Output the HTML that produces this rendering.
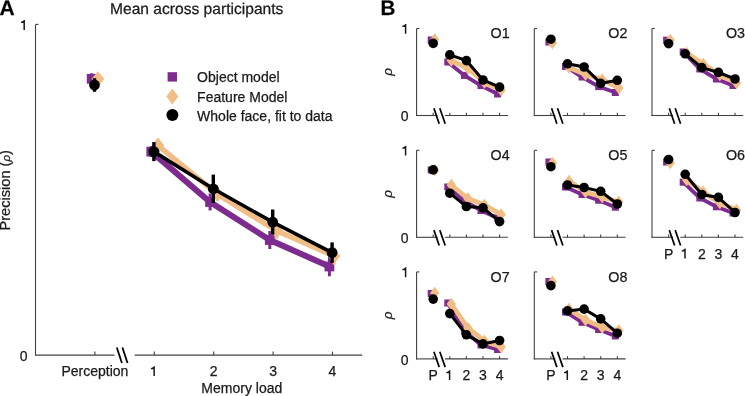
<!DOCTYPE html>
<html><head><meta charset="utf-8"><style>
html,body{margin:0;padding:0;background:#fff;}
svg{display:block;font-family:"Liberation Sans", sans-serif;will-change:transform;}
text{stroke:#1a1a1a;stroke-width:0.25px;}
</style></head><body>
<svg width="745" height="396" viewBox="0 0 745 396">
<rect width="745" height="396" fill="#fff"/>
<line x1="35.50" y1="24.40" x2="35.50" y2="355.60" stroke="#404040" stroke-width="1.1" stroke-linecap="butt"/>
<line x1="35.50" y1="24.40" x2="38.50" y2="24.40" stroke="#404040" stroke-width="1.1" stroke-linecap="butt"/>
<line x1="35.00" y1="355.10" x2="114.50" y2="355.10" stroke="#404040" stroke-width="1.1" stroke-linecap="butt"/>
<line x1="134.60" y1="355.10" x2="362.20" y2="355.10" stroke="#404040" stroke-width="1.1" stroke-linecap="butt"/>
<line x1="94.90" y1="355.10" x2="94.90" y2="351.60" stroke="#404040" stroke-width="1.1" stroke-linecap="butt"/>
<line x1="154.30" y1="355.10" x2="154.30" y2="351.60" stroke="#404040" stroke-width="1.1" stroke-linecap="butt"/>
<line x1="213.70" y1="355.10" x2="213.70" y2="351.60" stroke="#404040" stroke-width="1.1" stroke-linecap="butt"/>
<line x1="273.10" y1="355.10" x2="273.10" y2="351.60" stroke="#404040" stroke-width="1.1" stroke-linecap="butt"/>
<line x1="332.50" y1="355.10" x2="332.50" y2="351.60" stroke="#404040" stroke-width="1.1" stroke-linecap="butt"/>
<line x1="116.80" y1="347.50" x2="121.90" y2="363.00" stroke="#000" stroke-width="1.8" stroke-linecap="butt"/>
<line x1="122.40" y1="347.50" x2="127.50" y2="363.00" stroke="#000" stroke-width="1.8" stroke-linecap="butt"/>
<text x="27.60" y="360.70" font-size="14" text-anchor="end" font-weight="normal" fill="#1a1a1a" >0</text>
<path d="M24.95,29.90 L24.95,20.00 L23.90,20.00 C23.50,20.90 22.50,21.50 20.95,21.70 L20.95,23.00 L23.45,23.00 L23.45,29.90 Z" fill="#1a1a1a"/>
<text x="94.90" y="376.00" font-size="14" text-anchor="middle" font-weight="normal" fill="#1a1a1a" >Perception</text>
<path d="M154.90,376.10 L154.90,366.20 L153.85,366.20 C153.45,367.10 152.45,367.70 150.90,367.90 L150.90,369.20 L153.40,369.20 L153.40,376.10 Z" fill="#1a1a1a"/>
<text x="213.70" y="376.20" font-size="14" text-anchor="middle" font-weight="normal" fill="#1a1a1a" >2</text>
<text x="273.10" y="376.20" font-size="14" text-anchor="middle" font-weight="normal" fill="#1a1a1a" >3</text>
<text x="332.50" y="376.20" font-size="14" text-anchor="middle" font-weight="normal" fill="#1a1a1a" >4</text>
<text x="241.80" y="392.60" font-size="14" text-anchor="middle" font-weight="normal" fill="#1a1a1a" >Memory load</text>
<text x="0" y="0" font-size="14.6" text-anchor="middle" fill="#1a1a1a" transform="translate(10.4,190.3) rotate(-90)">Precision (<tspan font-style="italic" font-size="11.5" dy="-0.6">ρ</tspan><tspan dy="0.6">)</tspan></text>
<text x="196.7" y="13.9" font-size="15.6" text-anchor="middle" fill="#1a1a1a" text-rendering="geometricPrecision">Mean across participants</text>
<text x="-0.60" y="14.70" font-size="21" text-anchor="start" font-weight="bold" fill="#000" text-rendering="geometricPrecision">A</text>
<polyline points="151.30,151.60 210.10,202.00 269.80,240.00 329.40,266.50" fill="none" stroke="#7e2b8f" stroke-width="6.0" stroke-linejoin="miter" stroke-miterlimit="3"/>
<line x1="91.70" y1="73.30" x2="91.70" y2="84.30" stroke="#7e2b8f" stroke-width="3" stroke-linecap="butt"/>
<rect x="86.80" y="73.90" width="9.8" height="9.8" fill="#7e2b8f"/>
<line x1="151.30" y1="146.10" x2="151.30" y2="157.10" stroke="#7e2b8f" stroke-width="3" stroke-linecap="butt"/>
<rect x="146.40" y="146.70" width="9.8" height="9.8" fill="#7e2b8f"/>
<line x1="210.10" y1="193.50" x2="210.10" y2="210.50" stroke="#7e2b8f" stroke-width="3" stroke-linecap="butt"/>
<rect x="205.20" y="197.10" width="9.8" height="9.8" fill="#7e2b8f"/>
<line x1="269.80" y1="231.00" x2="269.80" y2="249.00" stroke="#7e2b8f" stroke-width="3" stroke-linecap="butt"/>
<rect x="264.90" y="235.10" width="9.8" height="9.8" fill="#7e2b8f"/>
<line x1="329.40" y1="256.70" x2="329.40" y2="276.30" stroke="#7e2b8f" stroke-width="3" stroke-linecap="butt"/>
<rect x="324.50" y="261.60" width="9.8" height="9.8" fill="#7e2b8f"/>
<polyline points="158.00,145.50 217.30,194.00 276.60,230.70 334.10,256.00" fill="none" stroke="#f0bd84" stroke-width="5.4" stroke-linejoin="miter" stroke-miterlimit="3"/>
<line x1="97.90" y1="73.00" x2="97.90" y2="85.00" stroke="#f0bd84" stroke-width="3" stroke-linecap="butt"/>
<polygon points="97.90,71.25 104.30,79.00 97.90,86.75 91.50,79.00" fill="#f0bd84"/>
<line x1="158.00" y1="138.50" x2="158.00" y2="152.50" stroke="#f0bd84" stroke-width="3" stroke-linecap="butt"/>
<polygon points="158.00,137.75 164.40,145.50 158.00,153.25 151.60,145.50" fill="#f0bd84"/>
<line x1="217.30" y1="187.00" x2="217.30" y2="201.00" stroke="#f0bd84" stroke-width="3" stroke-linecap="butt"/>
<polygon points="217.30,186.25 223.70,194.00 217.30,201.75 210.90,194.00" fill="#f0bd84"/>
<line x1="276.60" y1="222.70" x2="276.60" y2="238.70" stroke="#f0bd84" stroke-width="3" stroke-linecap="butt"/>
<polygon points="276.60,222.95 283.00,230.70 276.60,238.45 270.20,230.70" fill="#f0bd84"/>
<line x1="334.10" y1="247.50" x2="334.10" y2="264.50" stroke="#f0bd84" stroke-width="3" stroke-linecap="butt"/>
<polygon points="334.10,248.25 340.50,256.00 334.10,263.75 327.70,256.00" fill="#f0bd84"/>
<polyline points="153.90,151.60 213.30,188.80 272.70,222.10 332.10,252.60" fill="none" stroke="#000" stroke-width="3.6" stroke-linejoin="miter" stroke-miterlimit="3"/>
<line x1="94.50" y1="78.20" x2="94.50" y2="91.80" stroke="#000" stroke-width="3.4" stroke-linecap="butt"/>
<circle cx="94.50" cy="85.00" r="5.4" fill="#000"/>
<line x1="153.90" y1="142.10" x2="153.90" y2="161.10" stroke="#000" stroke-width="3.4" stroke-linecap="butt"/>
<circle cx="153.90" cy="151.60" r="5.4" fill="#000"/>
<line x1="213.30" y1="174.60" x2="213.30" y2="203.00" stroke="#000" stroke-width="3.4" stroke-linecap="butt"/>
<circle cx="213.30" cy="188.80" r="5.4" fill="#000"/>
<line x1="272.70" y1="209.50" x2="272.70" y2="234.70" stroke="#000" stroke-width="3.4" stroke-linecap="butt"/>
<circle cx="272.70" cy="222.10" r="5.4" fill="#000"/>
<line x1="332.10" y1="242.40" x2="332.10" y2="262.80" stroke="#000" stroke-width="3.4" stroke-linecap="butt"/>
<circle cx="332.10" cy="252.60" r="5.4" fill="#000"/>
<rect x="167.60" y="72.20" width="9.4" height="9.4" fill="#7e2b8f"/>
<polygon points="172.40,88.60 178.40,96.60 172.40,104.60 166.40,96.60" fill="#f0bd84"/>
<circle cx="172.40" cy="115.00" r="6" fill="#000"/>
<text x="197.10" y="82.40" font-size="14" text-anchor="start" font-weight="normal" fill="#1a1a1a" >Object model</text>
<text x="197.10" y="102.00" font-size="14" text-anchor="start" font-weight="normal" fill="#1a1a1a" >Feature Model</text>
<text x="197.10" y="121.40" font-size="14" text-anchor="start" font-weight="normal" fill="#1a1a1a" >Whole face, fit to data</text>
<text x="0" y="0" font-size="21" font-weight="bold" fill="#000" text-rendering="geometricPrecision" transform="translate(380.6,14.7) scale(0.98,1)">B</text>
<line x1="416.60" y1="28.50" x2="416.60" y2="116.00" stroke="#404040" stroke-width="1.1" stroke-linecap="butt"/>
<line x1="416.60" y1="28.50" x2="419.40" y2="28.50" stroke="#404040" stroke-width="1.1" stroke-linecap="butt"/>
<line x1="416.10" y1="115.50" x2="437.60" y2="115.50" stroke="#404040" stroke-width="1.1" stroke-linecap="butt"/>
<line x1="444.90" y1="115.50" x2="507.90" y2="115.50" stroke="#404040" stroke-width="1.1" stroke-linecap="butt"/>
<line x1="433.20" y1="115.50" x2="433.20" y2="112.80" stroke="#404040" stroke-width="1.1" stroke-linecap="butt"/>
<line x1="449.80" y1="115.50" x2="449.80" y2="112.80" stroke="#404040" stroke-width="1.1" stroke-linecap="butt"/>
<line x1="466.40" y1="115.50" x2="466.40" y2="112.80" stroke="#404040" stroke-width="1.1" stroke-linecap="butt"/>
<line x1="483.00" y1="115.50" x2="483.00" y2="112.80" stroke="#404040" stroke-width="1.1" stroke-linecap="butt"/>
<line x1="499.60" y1="115.50" x2="499.60" y2="112.80" stroke="#404040" stroke-width="1.1" stroke-linecap="butt"/>
<line x1="433.90" y1="108.30" x2="439.20" y2="123.70" stroke="#000" stroke-width="1.7" stroke-linecap="butt"/>
<line x1="439.80" y1="108.30" x2="445.20" y2="123.70" stroke="#000" stroke-width="1.7" stroke-linecap="butt"/>
<path d="M406.35,33.80 L406.35,23.90 L405.30,23.90 C404.90,24.80 403.90,25.40 402.35,25.60 L402.35,26.90 L404.85,26.90 L404.85,33.80 Z" fill="#1a1a1a"/>
<text x="408.60" y="121.10" font-size="14" text-anchor="end" font-weight="normal" fill="#1a1a1a" >0</text>
<text x="0" y="0" font-size="13.5" font-style="italic" text-anchor="middle" fill="#1a1a1a" transform="translate(392.30,72.00) rotate(-90)">ρ</text>
<text x="490.60" y="38.20" font-size="14.3" text-anchor="start" font-weight="normal" fill="#1a1a1a" >O1</text>
<polyline points="447.80,62.00 464.40,75.40 481.00,85.60 497.60,94.00" fill="none" stroke="#7e2b8f" stroke-width="3.8" stroke-linejoin="miter" stroke-miterlimit="3"/>
<rect x="427.70" y="36.50" width="7" height="7" fill="#7e2b8f"/>
<rect x="444.30" y="58.50" width="7" height="7" fill="#7e2b8f"/>
<rect x="460.90" y="71.90" width="7" height="7" fill="#7e2b8f"/>
<rect x="477.50" y="82.10" width="7" height="7" fill="#7e2b8f"/>
<rect x="494.10" y="90.50" width="7" height="7" fill="#7e2b8f"/>
<polyline points="451.30,60.50 467.90,68.50 484.50,82.50 501.10,90.00" fill="none" stroke="#f0bd84" stroke-width="4.8" stroke-linejoin="miter" stroke-miterlimit="3"/>
<polygon points="434.70,33.25 439.40,39.50 434.70,45.75 430.00,39.50" fill="#f0bd84"/>
<polygon points="451.30,54.25 456.00,60.50 451.30,66.75 446.60,60.50" fill="#f0bd84"/>
<polygon points="467.90,62.25 472.60,68.50 467.90,74.75 463.20,68.50" fill="#f0bd84"/>
<polygon points="484.50,76.25 489.20,82.50 484.50,88.75 479.80,82.50" fill="#f0bd84"/>
<polygon points="501.10,83.75 505.80,90.00 501.10,96.25 496.40,90.00" fill="#f0bd84"/>
<polyline points="449.80,54.90 466.40,60.60 483.00,80.00 499.60,87.10" fill="none" stroke="#000" stroke-width="3" stroke-linejoin="miter" stroke-miterlimit="3"/>
<circle cx="433.20" cy="43.40" r="4.8" fill="#000"/>
<circle cx="449.80" cy="54.90" r="4.8" fill="#000"/>
<circle cx="466.40" cy="60.60" r="4.8" fill="#000"/>
<circle cx="483.00" cy="80.00" r="4.8" fill="#000"/>
<circle cx="499.60" cy="87.10" r="4.8" fill="#000"/>
<line x1="534.30" y1="28.50" x2="534.30" y2="116.00" stroke="#404040" stroke-width="1.1" stroke-linecap="butt"/>
<line x1="534.30" y1="28.50" x2="537.10" y2="28.50" stroke="#404040" stroke-width="1.1" stroke-linecap="butt"/>
<line x1="533.80" y1="115.50" x2="555.30" y2="115.50" stroke="#404040" stroke-width="1.1" stroke-linecap="butt"/>
<line x1="562.60" y1="115.50" x2="625.60" y2="115.50" stroke="#404040" stroke-width="1.1" stroke-linecap="butt"/>
<line x1="550.90" y1="115.50" x2="550.90" y2="112.80" stroke="#404040" stroke-width="1.1" stroke-linecap="butt"/>
<line x1="567.50" y1="115.50" x2="567.50" y2="112.80" stroke="#404040" stroke-width="1.1" stroke-linecap="butt"/>
<line x1="584.10" y1="115.50" x2="584.10" y2="112.80" stroke="#404040" stroke-width="1.1" stroke-linecap="butt"/>
<line x1="600.70" y1="115.50" x2="600.70" y2="112.80" stroke="#404040" stroke-width="1.1" stroke-linecap="butt"/>
<line x1="617.30" y1="115.50" x2="617.30" y2="112.80" stroke="#404040" stroke-width="1.1" stroke-linecap="butt"/>
<line x1="551.60" y1="108.30" x2="556.90" y2="123.70" stroke="#000" stroke-width="1.7" stroke-linecap="butt"/>
<line x1="557.50" y1="108.30" x2="562.90" y2="123.70" stroke="#000" stroke-width="1.7" stroke-linecap="butt"/>
<text x="608.30" y="38.20" font-size="14.3" text-anchor="start" font-weight="normal" fill="#1a1a1a" >O2</text>
<polyline points="565.50,66.50 582.10,77.00 598.70,86.60 615.30,92.50" fill="none" stroke="#7e2b8f" stroke-width="3.8" stroke-linejoin="miter" stroke-miterlimit="3"/>
<rect x="545.40" y="38.50" width="7" height="7" fill="#7e2b8f"/>
<rect x="562.00" y="63.00" width="7" height="7" fill="#7e2b8f"/>
<rect x="578.60" y="73.50" width="7" height="7" fill="#7e2b8f"/>
<rect x="595.20" y="83.10" width="7" height="7" fill="#7e2b8f"/>
<rect x="611.80" y="89.00" width="7" height="7" fill="#7e2b8f"/>
<polyline points="569.00,67.50 585.60,74.50 602.20,79.50 618.80,88.00" fill="none" stroke="#f0bd84" stroke-width="4.8" stroke-linejoin="miter" stroke-miterlimit="3"/>
<polygon points="552.40,36.75 557.10,43.00 552.40,49.25 547.70,43.00" fill="#f0bd84"/>
<polygon points="569.00,61.25 573.70,67.50 569.00,73.75 564.30,67.50" fill="#f0bd84"/>
<polygon points="585.60,68.25 590.30,74.50 585.60,80.75 580.90,74.50" fill="#f0bd84"/>
<polygon points="602.20,73.25 606.90,79.50 602.20,85.75 597.50,79.50" fill="#f0bd84"/>
<polygon points="618.80,81.75 623.50,88.00 618.80,94.25 614.10,88.00" fill="#f0bd84"/>
<polyline points="567.50,63.80 584.10,67.00 600.70,83.40 617.30,80.30" fill="none" stroke="#000" stroke-width="3" stroke-linejoin="miter" stroke-miterlimit="3"/>
<circle cx="550.90" cy="39.20" r="4.8" fill="#000"/>
<circle cx="567.50" cy="63.80" r="4.8" fill="#000"/>
<circle cx="584.10" cy="67.00" r="4.8" fill="#000"/>
<circle cx="600.70" cy="83.40" r="4.8" fill="#000"/>
<circle cx="617.30" cy="80.30" r="4.8" fill="#000"/>
<line x1="652.00" y1="28.50" x2="652.00" y2="116.00" stroke="#404040" stroke-width="1.1" stroke-linecap="butt"/>
<line x1="652.00" y1="28.50" x2="654.80" y2="28.50" stroke="#404040" stroke-width="1.1" stroke-linecap="butt"/>
<line x1="651.50" y1="115.50" x2="673.00" y2="115.50" stroke="#404040" stroke-width="1.1" stroke-linecap="butt"/>
<line x1="680.30" y1="115.50" x2="743.30" y2="115.50" stroke="#404040" stroke-width="1.1" stroke-linecap="butt"/>
<line x1="668.60" y1="115.50" x2="668.60" y2="112.80" stroke="#404040" stroke-width="1.1" stroke-linecap="butt"/>
<line x1="685.20" y1="115.50" x2="685.20" y2="112.80" stroke="#404040" stroke-width="1.1" stroke-linecap="butt"/>
<line x1="701.80" y1="115.50" x2="701.80" y2="112.80" stroke="#404040" stroke-width="1.1" stroke-linecap="butt"/>
<line x1="718.40" y1="115.50" x2="718.40" y2="112.80" stroke="#404040" stroke-width="1.1" stroke-linecap="butt"/>
<line x1="735.00" y1="115.50" x2="735.00" y2="112.80" stroke="#404040" stroke-width="1.1" stroke-linecap="butt"/>
<line x1="669.30" y1="108.30" x2="674.60" y2="123.70" stroke="#000" stroke-width="1.7" stroke-linecap="butt"/>
<line x1="675.20" y1="108.30" x2="680.60" y2="123.70" stroke="#000" stroke-width="1.7" stroke-linecap="butt"/>
<text x="726.00" y="38.20" font-size="14.3" text-anchor="start" font-weight="normal" fill="#1a1a1a" >O3</text>
<polyline points="683.20,52.00 699.80,69.00 716.40,79.00 733.00,85.50" fill="none" stroke="#7e2b8f" stroke-width="3.8" stroke-linejoin="miter" stroke-miterlimit="3"/>
<rect x="663.10" y="36.70" width="7" height="7" fill="#7e2b8f"/>
<rect x="679.70" y="48.50" width="7" height="7" fill="#7e2b8f"/>
<rect x="696.30" y="65.50" width="7" height="7" fill="#7e2b8f"/>
<rect x="712.90" y="75.50" width="7" height="7" fill="#7e2b8f"/>
<rect x="729.50" y="82.00" width="7" height="7" fill="#7e2b8f"/>
<polyline points="686.70,53.00 703.30,64.00 719.90,75.00 736.50,83.00" fill="none" stroke="#f0bd84" stroke-width="4.8" stroke-linejoin="miter" stroke-miterlimit="3"/>
<polygon points="670.10,33.75 674.80,40.00 670.10,46.25 665.40,40.00" fill="#f0bd84"/>
<polygon points="686.70,46.75 691.40,53.00 686.70,59.25 682.00,53.00" fill="#f0bd84"/>
<polygon points="703.30,57.75 708.00,64.00 703.30,70.25 698.60,64.00" fill="#f0bd84"/>
<polygon points="719.90,68.75 724.60,75.00 719.90,81.25 715.20,75.00" fill="#f0bd84"/>
<polygon points="736.50,76.75 741.20,83.00 736.50,89.25 731.80,83.00" fill="#f0bd84"/>
<polyline points="685.20,53.80 701.80,67.60 718.40,72.40 735.00,79.00" fill="none" stroke="#000" stroke-width="3" stroke-linejoin="miter" stroke-miterlimit="3"/>
<circle cx="668.60" cy="43.60" r="4.8" fill="#000"/>
<circle cx="685.20" cy="53.80" r="4.8" fill="#000"/>
<circle cx="701.80" cy="67.60" r="4.8" fill="#000"/>
<circle cx="718.40" cy="72.40" r="4.8" fill="#000"/>
<circle cx="735.00" cy="79.00" r="4.8" fill="#000"/>
<line x1="416.60" y1="150.30" x2="416.60" y2="237.80" stroke="#404040" stroke-width="1.1" stroke-linecap="butt"/>
<line x1="416.60" y1="150.30" x2="419.40" y2="150.30" stroke="#404040" stroke-width="1.1" stroke-linecap="butt"/>
<line x1="416.10" y1="237.30" x2="437.60" y2="237.30" stroke="#404040" stroke-width="1.1" stroke-linecap="butt"/>
<line x1="444.90" y1="237.30" x2="507.90" y2="237.30" stroke="#404040" stroke-width="1.1" stroke-linecap="butt"/>
<line x1="433.20" y1="237.30" x2="433.20" y2="234.60" stroke="#404040" stroke-width="1.1" stroke-linecap="butt"/>
<line x1="449.80" y1="237.30" x2="449.80" y2="234.60" stroke="#404040" stroke-width="1.1" stroke-linecap="butt"/>
<line x1="466.40" y1="237.30" x2="466.40" y2="234.60" stroke="#404040" stroke-width="1.1" stroke-linecap="butt"/>
<line x1="483.00" y1="237.30" x2="483.00" y2="234.60" stroke="#404040" stroke-width="1.1" stroke-linecap="butt"/>
<line x1="499.60" y1="237.30" x2="499.60" y2="234.60" stroke="#404040" stroke-width="1.1" stroke-linecap="butt"/>
<line x1="433.90" y1="230.10" x2="439.20" y2="245.50" stroke="#000" stroke-width="1.7" stroke-linecap="butt"/>
<line x1="439.80" y1="230.10" x2="445.20" y2="245.50" stroke="#000" stroke-width="1.7" stroke-linecap="butt"/>
<path d="M406.35,155.60 L406.35,145.70 L405.30,145.70 C404.90,146.60 403.90,147.20 402.35,147.40 L402.35,148.70 L404.85,148.70 L404.85,155.60 Z" fill="#1a1a1a"/>
<text x="408.60" y="242.90" font-size="14" text-anchor="end" font-weight="normal" fill="#1a1a1a" >0</text>
<text x="0" y="0" font-size="13.5" font-style="italic" text-anchor="middle" fill="#1a1a1a" transform="translate(392.30,193.80) rotate(-90)">ρ</text>
<text x="490.60" y="160.00" font-size="14.3" text-anchor="start" font-weight="normal" fill="#1a1a1a" >O4</text>
<polyline points="447.80,187.00 464.40,201.00 481.00,210.50 497.60,218.00" fill="none" stroke="#7e2b8f" stroke-width="3.8" stroke-linejoin="miter" stroke-miterlimit="3"/>
<rect x="427.70" y="166.50" width="7" height="7" fill="#7e2b8f"/>
<rect x="444.30" y="183.50" width="7" height="7" fill="#7e2b8f"/>
<rect x="460.90" y="197.50" width="7" height="7" fill="#7e2b8f"/>
<rect x="477.50" y="207.00" width="7" height="7" fill="#7e2b8f"/>
<rect x="494.10" y="214.50" width="7" height="7" fill="#7e2b8f"/>
<polyline points="451.30,185.00 467.90,198.50 484.50,205.00 501.10,214.50" fill="none" stroke="#f0bd84" stroke-width="4.8" stroke-linejoin="miter" stroke-miterlimit="3"/>
<polygon points="434.70,163.75 439.40,170.00 434.70,176.25 430.00,170.00" fill="#f0bd84"/>
<polygon points="451.30,178.75 456.00,185.00 451.30,191.25 446.60,185.00" fill="#f0bd84"/>
<polygon points="467.90,192.25 472.60,198.50 467.90,204.75 463.20,198.50" fill="#f0bd84"/>
<polygon points="484.50,198.75 489.20,205.00 484.50,211.25 479.80,205.00" fill="#f0bd84"/>
<polygon points="501.10,208.25 505.80,214.50 501.10,220.75 496.40,214.50" fill="#f0bd84"/>
<polyline points="449.80,193.20 466.40,206.50 483.00,207.80 499.60,221.60" fill="none" stroke="#000" stroke-width="3" stroke-linejoin="miter" stroke-miterlimit="3"/>
<circle cx="433.20" cy="169.90" r="4.8" fill="#000"/>
<circle cx="449.80" cy="193.20" r="4.8" fill="#000"/>
<circle cx="466.40" cy="206.50" r="4.8" fill="#000"/>
<circle cx="483.00" cy="207.80" r="4.8" fill="#000"/>
<circle cx="499.60" cy="221.60" r="4.8" fill="#000"/>
<line x1="534.30" y1="150.30" x2="534.30" y2="237.80" stroke="#404040" stroke-width="1.1" stroke-linecap="butt"/>
<line x1="534.30" y1="150.30" x2="537.10" y2="150.30" stroke="#404040" stroke-width="1.1" stroke-linecap="butt"/>
<line x1="533.80" y1="237.30" x2="555.30" y2="237.30" stroke="#404040" stroke-width="1.1" stroke-linecap="butt"/>
<line x1="562.60" y1="237.30" x2="625.60" y2="237.30" stroke="#404040" stroke-width="1.1" stroke-linecap="butt"/>
<line x1="550.90" y1="237.30" x2="550.90" y2="234.60" stroke="#404040" stroke-width="1.1" stroke-linecap="butt"/>
<line x1="567.50" y1="237.30" x2="567.50" y2="234.60" stroke="#404040" stroke-width="1.1" stroke-linecap="butt"/>
<line x1="584.10" y1="237.30" x2="584.10" y2="234.60" stroke="#404040" stroke-width="1.1" stroke-linecap="butt"/>
<line x1="600.70" y1="237.30" x2="600.70" y2="234.60" stroke="#404040" stroke-width="1.1" stroke-linecap="butt"/>
<line x1="617.30" y1="237.30" x2="617.30" y2="234.60" stroke="#404040" stroke-width="1.1" stroke-linecap="butt"/>
<line x1="551.60" y1="230.10" x2="556.90" y2="245.50" stroke="#000" stroke-width="1.7" stroke-linecap="butt"/>
<line x1="557.50" y1="230.10" x2="562.90" y2="245.50" stroke="#000" stroke-width="1.7" stroke-linecap="butt"/>
<text x="608.30" y="160.00" font-size="14.3" text-anchor="start" font-weight="normal" fill="#1a1a1a" >O5</text>
<polyline points="565.50,187.00 582.10,194.50 598.70,200.20 615.30,207.20" fill="none" stroke="#7e2b8f" stroke-width="3.8" stroke-linejoin="miter" stroke-miterlimit="3"/>
<rect x="545.40" y="158.50" width="7" height="7" fill="#7e2b8f"/>
<rect x="562.00" y="183.50" width="7" height="7" fill="#7e2b8f"/>
<rect x="578.60" y="191.00" width="7" height="7" fill="#7e2b8f"/>
<rect x="595.20" y="196.70" width="7" height="7" fill="#7e2b8f"/>
<rect x="611.80" y="203.70" width="7" height="7" fill="#7e2b8f"/>
<polyline points="569.00,181.00 585.60,192.00 602.20,197.00 618.80,202.00" fill="none" stroke="#f0bd84" stroke-width="4.8" stroke-linejoin="miter" stroke-miterlimit="3"/>
<polygon points="552.40,156.75 557.10,163.00 552.40,169.25 547.70,163.00" fill="#f0bd84"/>
<polygon points="569.00,174.75 573.70,181.00 569.00,187.25 564.30,181.00" fill="#f0bd84"/>
<polygon points="585.60,185.75 590.30,192.00 585.60,198.25 580.90,192.00" fill="#f0bd84"/>
<polygon points="602.20,190.75 606.90,197.00 602.20,203.25 597.50,197.00" fill="#f0bd84"/>
<polygon points="618.80,195.75 623.50,202.00 618.80,208.25 614.10,202.00" fill="#f0bd84"/>
<polyline points="567.50,185.00 584.10,187.50 600.70,191.30 617.30,204.00" fill="none" stroke="#000" stroke-width="3" stroke-linejoin="miter" stroke-miterlimit="3"/>
<circle cx="550.90" cy="166.70" r="4.8" fill="#000"/>
<circle cx="567.50" cy="185.00" r="4.8" fill="#000"/>
<circle cx="584.10" cy="187.50" r="4.8" fill="#000"/>
<circle cx="600.70" cy="191.30" r="4.8" fill="#000"/>
<circle cx="617.30" cy="204.00" r="4.8" fill="#000"/>
<line x1="652.00" y1="150.30" x2="652.00" y2="237.80" stroke="#404040" stroke-width="1.1" stroke-linecap="butt"/>
<line x1="652.00" y1="150.30" x2="654.80" y2="150.30" stroke="#404040" stroke-width="1.1" stroke-linecap="butt"/>
<line x1="651.50" y1="237.30" x2="673.00" y2="237.30" stroke="#404040" stroke-width="1.1" stroke-linecap="butt"/>
<line x1="680.30" y1="237.30" x2="743.30" y2="237.30" stroke="#404040" stroke-width="1.1" stroke-linecap="butt"/>
<line x1="668.60" y1="237.30" x2="668.60" y2="234.60" stroke="#404040" stroke-width="1.1" stroke-linecap="butt"/>
<line x1="685.20" y1="237.30" x2="685.20" y2="234.60" stroke="#404040" stroke-width="1.1" stroke-linecap="butt"/>
<line x1="701.80" y1="237.30" x2="701.80" y2="234.60" stroke="#404040" stroke-width="1.1" stroke-linecap="butt"/>
<line x1="718.40" y1="237.30" x2="718.40" y2="234.60" stroke="#404040" stroke-width="1.1" stroke-linecap="butt"/>
<line x1="735.00" y1="237.30" x2="735.00" y2="234.60" stroke="#404040" stroke-width="1.1" stroke-linecap="butt"/>
<line x1="669.30" y1="230.10" x2="674.60" y2="245.50" stroke="#000" stroke-width="1.7" stroke-linecap="butt"/>
<line x1="675.20" y1="230.10" x2="680.60" y2="245.50" stroke="#000" stroke-width="1.7" stroke-linecap="butt"/>
<text x="668.60" y="258.50" font-size="14" text-anchor="middle" font-weight="normal" fill="#1a1a1a" >P</text>
<path d="M685.75,258.50 L685.75,248.60 L684.70,248.60 C684.30,249.50 683.30,250.10 681.75,250.30 L681.75,251.60 L684.25,251.60 L684.25,258.50 Z" fill="#1a1a1a"/>
<text x="701.80" y="258.50" font-size="14" text-anchor="middle" font-weight="normal" fill="#1a1a1a" >2</text>
<text x="718.40" y="258.50" font-size="14" text-anchor="middle" font-weight="normal" fill="#1a1a1a" >3</text>
<text x="735.00" y="258.50" font-size="14" text-anchor="middle" font-weight="normal" fill="#1a1a1a" >4</text>
<text x="726.00" y="160.00" font-size="14.3" text-anchor="start" font-weight="normal" fill="#1a1a1a" >O6</text>
<polyline points="683.20,182.20 699.80,198.00 716.40,206.80 733.00,213.00" fill="none" stroke="#7e2b8f" stroke-width="3.8" stroke-linejoin="miter" stroke-miterlimit="3"/>
<rect x="663.10" y="158.50" width="7" height="7" fill="#7e2b8f"/>
<rect x="679.70" y="178.70" width="7" height="7" fill="#7e2b8f"/>
<rect x="696.30" y="194.50" width="7" height="7" fill="#7e2b8f"/>
<rect x="712.90" y="203.30" width="7" height="7" fill="#7e2b8f"/>
<rect x="729.50" y="209.50" width="7" height="7" fill="#7e2b8f"/>
<polyline points="686.70,180.00 703.30,192.00 719.90,203.00 736.50,210.00" fill="none" stroke="#f0bd84" stroke-width="4.8" stroke-linejoin="miter" stroke-miterlimit="3"/>
<polygon points="670.10,156.75 674.80,163.00 670.10,169.25 665.40,163.00" fill="#f0bd84"/>
<polygon points="686.70,173.75 691.40,180.00 686.70,186.25 682.00,180.00" fill="#f0bd84"/>
<polygon points="703.30,185.75 708.00,192.00 703.30,198.25 698.60,192.00" fill="#f0bd84"/>
<polygon points="719.90,196.75 724.60,203.00 719.90,209.25 715.20,203.00" fill="#f0bd84"/>
<polygon points="736.50,203.75 741.20,210.00 736.50,216.25 731.80,210.00" fill="#f0bd84"/>
<polyline points="685.20,174.30 701.80,194.50 718.40,197.40 735.00,212.50" fill="none" stroke="#000" stroke-width="3" stroke-linejoin="miter" stroke-miterlimit="3"/>
<circle cx="668.60" cy="159.50" r="4.8" fill="#000"/>
<circle cx="685.20" cy="174.30" r="4.8" fill="#000"/>
<circle cx="701.80" cy="194.50" r="4.8" fill="#000"/>
<circle cx="718.40" cy="197.40" r="4.8" fill="#000"/>
<circle cx="735.00" cy="212.50" r="4.8" fill="#000"/>
<line x1="416.60" y1="271.90" x2="416.60" y2="359.40" stroke="#404040" stroke-width="1.1" stroke-linecap="butt"/>
<line x1="416.60" y1="271.90" x2="419.40" y2="271.90" stroke="#404040" stroke-width="1.1" stroke-linecap="butt"/>
<line x1="416.10" y1="358.90" x2="437.60" y2="358.90" stroke="#404040" stroke-width="1.1" stroke-linecap="butt"/>
<line x1="444.90" y1="358.90" x2="507.90" y2="358.90" stroke="#404040" stroke-width="1.1" stroke-linecap="butt"/>
<line x1="433.20" y1="358.90" x2="433.20" y2="356.20" stroke="#404040" stroke-width="1.1" stroke-linecap="butt"/>
<line x1="449.80" y1="358.90" x2="449.80" y2="356.20" stroke="#404040" stroke-width="1.1" stroke-linecap="butt"/>
<line x1="466.40" y1="358.90" x2="466.40" y2="356.20" stroke="#404040" stroke-width="1.1" stroke-linecap="butt"/>
<line x1="483.00" y1="358.90" x2="483.00" y2="356.20" stroke="#404040" stroke-width="1.1" stroke-linecap="butt"/>
<line x1="499.60" y1="358.90" x2="499.60" y2="356.20" stroke="#404040" stroke-width="1.1" stroke-linecap="butt"/>
<line x1="433.90" y1="351.70" x2="439.20" y2="367.10" stroke="#000" stroke-width="1.7" stroke-linecap="butt"/>
<line x1="439.80" y1="351.70" x2="445.20" y2="367.10" stroke="#000" stroke-width="1.7" stroke-linecap="butt"/>
<path d="M406.35,277.20 L406.35,267.30 L405.30,267.30 C404.90,268.20 403.90,268.80 402.35,269.00 L402.35,270.30 L404.85,270.30 L404.85,277.20 Z" fill="#1a1a1a"/>
<text x="408.60" y="364.50" font-size="14" text-anchor="end" font-weight="normal" fill="#1a1a1a" >0</text>
<text x="0" y="0" font-size="13.5" font-style="italic" text-anchor="middle" fill="#1a1a1a" transform="translate(392.30,315.40) rotate(-90)">ρ</text>
<text x="433.20" y="380.10" font-size="14" text-anchor="middle" font-weight="normal" fill="#1a1a1a" >P</text>
<path d="M450.35,380.10 L450.35,370.20 L449.30,370.20 C448.90,371.10 447.90,371.70 446.35,371.90 L446.35,373.20 L448.85,373.20 L448.85,380.10 Z" fill="#1a1a1a"/>
<text x="466.40" y="380.10" font-size="14" text-anchor="middle" font-weight="normal" fill="#1a1a1a" >2</text>
<text x="483.00" y="380.10" font-size="14" text-anchor="middle" font-weight="normal" fill="#1a1a1a" >3</text>
<text x="499.60" y="380.10" font-size="14" text-anchor="middle" font-weight="normal" fill="#1a1a1a" >4</text>
<text x="490.60" y="281.60" font-size="14.3" text-anchor="start" font-weight="normal" fill="#1a1a1a" >O7</text>
<polyline points="447.80,303.00 464.40,331.00 481.00,345.00 497.60,349.50" fill="none" stroke="#7e2b8f" stroke-width="3.8" stroke-linejoin="miter" stroke-miterlimit="3"/>
<rect x="427.70" y="290.00" width="7" height="7" fill="#7e2b8f"/>
<rect x="444.30" y="299.50" width="7" height="7" fill="#7e2b8f"/>
<rect x="460.90" y="327.50" width="7" height="7" fill="#7e2b8f"/>
<rect x="477.50" y="341.50" width="7" height="7" fill="#7e2b8f"/>
<rect x="494.10" y="346.00" width="7" height="7" fill="#7e2b8f"/>
<polyline points="451.30,304.00 467.90,328.00 484.50,341.00 501.10,347.00" fill="none" stroke="#f0bd84" stroke-width="4.8" stroke-linejoin="miter" stroke-miterlimit="3"/>
<polygon points="434.70,286.75 439.40,293.00 434.70,299.25 430.00,293.00" fill="#f0bd84"/>
<polygon points="451.30,297.75 456.00,304.00 451.30,310.25 446.60,304.00" fill="#f0bd84"/>
<polygon points="467.90,321.75 472.60,328.00 467.90,334.25 463.20,328.00" fill="#f0bd84"/>
<polygon points="484.50,334.75 489.20,341.00 484.50,347.25 479.80,341.00" fill="#f0bd84"/>
<polygon points="501.10,340.75 505.80,347.00 501.10,353.25 496.40,347.00" fill="#f0bd84"/>
<polyline points="449.80,313.60 466.40,334.80 483.00,343.90 499.60,340.50" fill="none" stroke="#000" stroke-width="3" stroke-linejoin="miter" stroke-miterlimit="3"/>
<circle cx="433.20" cy="299.10" r="4.8" fill="#000"/>
<circle cx="449.80" cy="313.60" r="4.8" fill="#000"/>
<circle cx="466.40" cy="334.80" r="4.8" fill="#000"/>
<circle cx="483.00" cy="343.90" r="4.8" fill="#000"/>
<circle cx="499.60" cy="340.50" r="4.8" fill="#000"/>
<line x1="534.30" y1="271.90" x2="534.30" y2="359.40" stroke="#404040" stroke-width="1.1" stroke-linecap="butt"/>
<line x1="534.30" y1="271.90" x2="537.10" y2="271.90" stroke="#404040" stroke-width="1.1" stroke-linecap="butt"/>
<line x1="533.80" y1="358.90" x2="555.30" y2="358.90" stroke="#404040" stroke-width="1.1" stroke-linecap="butt"/>
<line x1="562.60" y1="358.90" x2="625.60" y2="358.90" stroke="#404040" stroke-width="1.1" stroke-linecap="butt"/>
<line x1="550.90" y1="358.90" x2="550.90" y2="356.20" stroke="#404040" stroke-width="1.1" stroke-linecap="butt"/>
<line x1="567.50" y1="358.90" x2="567.50" y2="356.20" stroke="#404040" stroke-width="1.1" stroke-linecap="butt"/>
<line x1="584.10" y1="358.90" x2="584.10" y2="356.20" stroke="#404040" stroke-width="1.1" stroke-linecap="butt"/>
<line x1="600.70" y1="358.90" x2="600.70" y2="356.20" stroke="#404040" stroke-width="1.1" stroke-linecap="butt"/>
<line x1="617.30" y1="358.90" x2="617.30" y2="356.20" stroke="#404040" stroke-width="1.1" stroke-linecap="butt"/>
<line x1="551.60" y1="351.70" x2="556.90" y2="367.10" stroke="#000" stroke-width="1.7" stroke-linecap="butt"/>
<line x1="557.50" y1="351.70" x2="562.90" y2="367.10" stroke="#000" stroke-width="1.7" stroke-linecap="butt"/>
<text x="550.90" y="380.10" font-size="14" text-anchor="middle" font-weight="normal" fill="#1a1a1a" >P</text>
<path d="M568.05,380.10 L568.05,370.20 L567.00,370.20 C566.60,371.10 565.60,371.70 564.05,371.90 L564.05,373.20 L566.55,373.20 L566.55,380.10 Z" fill="#1a1a1a"/>
<text x="584.10" y="380.10" font-size="14" text-anchor="middle" font-weight="normal" fill="#1a1a1a" >2</text>
<text x="600.70" y="380.10" font-size="14" text-anchor="middle" font-weight="normal" fill="#1a1a1a" >3</text>
<text x="617.30" y="380.10" font-size="14" text-anchor="middle" font-weight="normal" fill="#1a1a1a" >4</text>
<text x="608.30" y="281.60" font-size="14.3" text-anchor="start" font-weight="normal" fill="#1a1a1a" >O8</text>
<polyline points="565.50,312.00 582.10,322.30 598.70,329.50 615.30,336.00" fill="none" stroke="#7e2b8f" stroke-width="3.8" stroke-linejoin="miter" stroke-miterlimit="3"/>
<rect x="545.40" y="278.00" width="7" height="7" fill="#7e2b8f"/>
<rect x="562.00" y="308.50" width="7" height="7" fill="#7e2b8f"/>
<rect x="578.60" y="318.80" width="7" height="7" fill="#7e2b8f"/>
<rect x="595.20" y="326.00" width="7" height="7" fill="#7e2b8f"/>
<rect x="611.80" y="332.50" width="7" height="7" fill="#7e2b8f"/>
<polyline points="569.00,309.00 585.60,320.00 602.20,327.50 618.80,330.50" fill="none" stroke="#f0bd84" stroke-width="4.8" stroke-linejoin="miter" stroke-miterlimit="3"/>
<polygon points="552.40,275.45 557.10,281.70 552.40,287.95 547.70,281.70" fill="#f0bd84"/>
<polygon points="569.00,302.75 573.70,309.00 569.00,315.25 564.30,309.00" fill="#f0bd84"/>
<polygon points="585.60,313.75 590.30,320.00 585.60,326.25 580.90,320.00" fill="#f0bd84"/>
<polygon points="602.20,321.25 606.90,327.50 602.20,333.75 597.50,327.50" fill="#f0bd84"/>
<polygon points="618.80,324.25 623.50,330.50 618.80,336.75 614.10,330.50" fill="#f0bd84"/>
<polyline points="567.50,310.90 584.10,309.10 600.70,318.90 617.30,333.20" fill="none" stroke="#000" stroke-width="3" stroke-linejoin="miter" stroke-miterlimit="3"/>
<circle cx="550.90" cy="285.60" r="4.8" fill="#000"/>
<circle cx="567.50" cy="310.90" r="4.8" fill="#000"/>
<circle cx="584.10" cy="309.10" r="4.8" fill="#000"/>
<circle cx="600.70" cy="318.90" r="4.8" fill="#000"/>
<circle cx="617.30" cy="333.20" r="4.8" fill="#000"/>
</svg>
</body></html>
